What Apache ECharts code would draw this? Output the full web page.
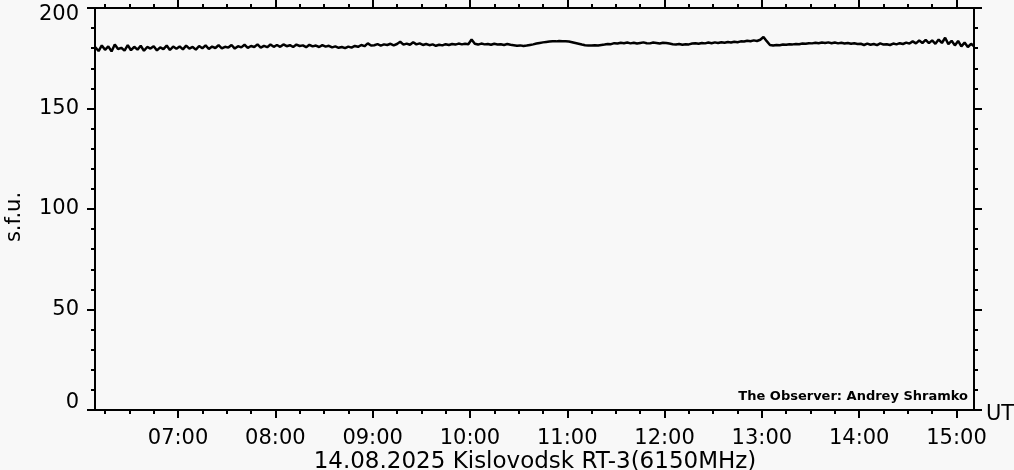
<!DOCTYPE html>
<html>
<head>
<meta charset="utf-8">
<script src="https://cdn.jsdelivr.net/npm/echarts@6/dist/echarts.min.js"></script>
<style>
html,body{margin:0;padding:0;background:#f8f8f8;}
#chart{width:1014px;height:470px;}
</style>
</head>
<body>
<div id="chart"></div>
<script>
// ---- data ----
const title = '14.08.2025 Kislovodsk RT-3(6150MHz)';
const observer = 'The Observer: Andrey Shramko';
const yName = 's.f.u.';
const xUnit = 'UT';
// x range in minutes after 00:00 UT
const xMin = 368.8;   // ~06:09
const xMax = 910.8;   // ~15:11
const startMinute = 369; // first sample 06:09
const stepMinutes = 2;
const hourTicks = [420, 480, 540, 600, 660, 720, 780, 840, 900];
const hourLabels = ['07:00', '08:00', '09:00', '10:00', '11:00', '12:00', '13:00', '14:00', '15:00'];
const yTicks = [0, 50, 100, 150, 200];
// flux values (s.f.u.) every 2 minutes from 06:09
const flux = [
  // 06:09 - 06:59
  180.5, 178.6, 181.4, 179.2, 180.9, 178.4, 181.8, 179.6, 180.2, 178.8, 181.5, 179.0, 180.7,
  179.3, 181.2, 178.7, 180.6, 179.8, 181.0, 178.9, 180.4, 179.5, 181.3, 179.1, 180.8, 179.7,
  // 07:01 - 07:59
  180.9, 179.4, 181.3, 179.8, 180.6, 179.3, 181.1, 180.0, 181.4, 179.6, 180.8, 180.1, 181.5, 179.9, 180.7,
  180.3, 181.6, 179.8, 181.0, 180.4, 181.7, 180.2, 181.1, 180.6, 181.9, 180.3, 181.2, 180.5, 181.8, 180.7,
  // 08:01 - 08:59
  181.6, 180.7, 181.9, 181.0, 181.5, 180.6, 181.8, 181.1, 181.4, 180.5, 181.7, 180.9, 181.3, 180.6, 181.5,
  180.8, 181.2, 180.4, 180.9, 180.2, 180.6, 180.0, 180.8, 180.3, 181.1, 180.7, 181.6, 181.0, 182.4, 181.3,
  // 09:01 - 09:59
  181.5, 182.0, 181.3, 181.9, 181.6, 182.2, 181.4, 182.1, 183.2, 181.8, 182.3, 181.7, 183.0, 181.9, 182.4,
  181.6, 182.1, 181.5, 181.9, 181.2, 181.7, 181.4, 182.0, 181.6, 182.1, 181.8, 182.3, 181.9, 182.2, 182.0,
  // 10:01 - 10:59
  184.3, 182.2, 181.8, 182.3, 181.9, 182.1, 181.7, 182.2, 181.8, 182.0, 181.6, 182.1, 181.7, 181.5, 181.2,
  181.4, 181.1, 181.3, 181.6, 181.9, 182.3, 182.6, 182.9, 183.1, 183.3, 183.5, 183.4, 183.6, 183.5, 183.4,
  // 11:01 - 11:59
  183.3, 183.0, 182.6, 182.2, 181.8, 181.5, 181.4, 181.3, 181.5, 181.3, 181.6, 181.8, 182.1, 182.0, 182.5,
  182.3, 182.7, 182.5, 182.8, 182.4, 182.7, 182.3, 182.6, 182.9, 182.5, 182.4, 182.8, 182.6, 182.3, 182.7,
  // 12:01 - 12:59
  182.6, 182.3, 182.0, 181.8, 182.1, 181.7, 182.0, 181.9, 182.3, 182.5, 182.2, 182.6, 182.4, 182.8, 182.5,
  182.9, 182.6, 183.0, 182.7, 183.1, 182.8, 183.2, 183.0, 183.4, 183.3, 183.7, 183.5, 183.9, 183.6, 184.2,
  // 13:01 - 13:59
  185.6, 183.5, 181.6, 181.3, 181.6, 181.5, 181.8, 181.7, 182.0, 181.9, 182.1, 182.0, 182.3, 182.2, 182.5,
  182.4, 182.7, 182.5, 182.8, 182.6, 182.9, 182.5, 182.8, 182.4, 182.7, 182.3, 182.6, 182.2, 182.5, 182.1,
  // 14:01 - 14:59
  182.2, 181.6, 182.3, 181.7, 182.1, 181.5, 182.4, 181.8, 182.0, 181.6, 182.3, 181.9, 182.5, 182.1, 182.8,
  182.3, 183.4, 182.4, 183.8, 182.6, 184.1, 182.5, 183.9, 182.2, 184.3, 182.6, 185.2, 182.0, 183.7, 181.4,
  // 15:01 - 15:11
  183.6, 180.9, 182.8, 180.6, 182.2, 180.8
];

// ---- build ----
const seriesData = flux.map((v, i) => [startMinute + i * stepMinutes, v]);
const quarterTicks = [];
for (let m = 375; m <= 900; m += 15) quarterTicks.push(m);
const labelOf = {};
hourTicks.forEach((t, i) => labelOf[t] = hourLabels[i]);

const FONT = 'DejaVu Sans';
const black = '#000';

function xAxisCfg(pos, ticks, len, withLine, withLabels) {
  return {
    type: 'value', position: pos, min: xMin, max: xMax,
    axisLine: { show: withLine, onZero: false, lineStyle: { color: black, width: 2 } },
    axisTick: { show: true, customValues: ticks, length: len, inside: false, lineStyle: { color: black, width: 2 } },
    axisLabel: withLabels ? {
      show: true, customValues: hourTicks, margin: 18,
      formatter: v => labelOf[Math.round(v)] || '',
      fontFamily: FONT, fontSize: 21, color: black
    } : { show: false },
    splitLine: { show: false }
  };
}
function yAxisCfg(pos, withLabels) {
  return {
    type: 'value', position: pos, min: 0, max: 200, interval: 50,
    axisLine: { show: true, onZero: false, lineStyle: { color: black, width: 2 } },
    axisTick: { show: true, length: 8, lineStyle: { color: black, width: 2 } },
    minorTick: { show: true, splitNumber: 5, length: 4, lineStyle: { color: black, width: 2 } },
    axisLabel: withLabels ? {
      show: true, margin: 16, fontFamily: FONT, fontSize: 21, color: black,
      formatter: v => v === 200 ? '{top|200}' : (v === 0 ? '{bot|0}' : String(v)),
      rich: {
        top: { fontFamily: FONT, fontSize: 21, color: black, padding: [13, 0, 0, 0] },
        bot: { fontFamily: FONT, fontSize: 21, color: black, padding: [0, 0, 14, 0] }
      }
    } : { show: false },
    splitLine: { show: false },
    minorSplitLine: { show: false }
  };
}

const chart = echarts.init(document.getElementById('chart'), null, { renderer: 'canvas' });
chart.setOption({
  animation: false,
  backgroundColor: '#f8f8f8',
  grid: { left: 95, right: 40, top: 8, bottom: 60, containLabel: false },
  xAxis: [
    xAxisCfg('bottom', hourTicks, 8, true, true),
    xAxisCfg('bottom', quarterTicks, 4, false, false),
    xAxisCfg('top', hourTicks, 8, true, false),
    xAxisCfg('top', quarterTicks, 4, false, false)
  ],
  yAxis: [yAxisCfg('left', true), yAxisCfg('right', false)],
  series: [{
    type: 'line', xAxisIndex: 0, yAxisIndex: 0,
    data: seriesData, showSymbol: false, symbol: 'none',
    lineStyle: { color: black, width: 2.5 }, clip: true
  }],
  graphic: [
    { type: 'text', x: 535, y: 462,
      style: { text: title, font: '23px "DejaVu Sans"', fill: black, textAlign: 'center', textVerticalAlign: 'middle' } },
    { type: 'text', x: 986, y: 414.5,
      style: { text: xUnit, font: '21px "DejaVu Sans"', fill: black, textAlign: 'left', textVerticalAlign: 'middle' } },
    { type: 'text', x: 968, y: 397,
      style: { text: observer, font: 'bold 13px "DejaVu Sans"', fill: black, textAlign: 'right', textVerticalAlign: 'middle' } },
    { type: 'text', x: 15, y: 217, rotation: Math.PI / 2,
      style: { text: yName, font: '21px "DejaVu Sans"', fill: black, textAlign: 'center', textVerticalAlign: 'middle' } }
  ]
});
</script>
</body>
</html>
